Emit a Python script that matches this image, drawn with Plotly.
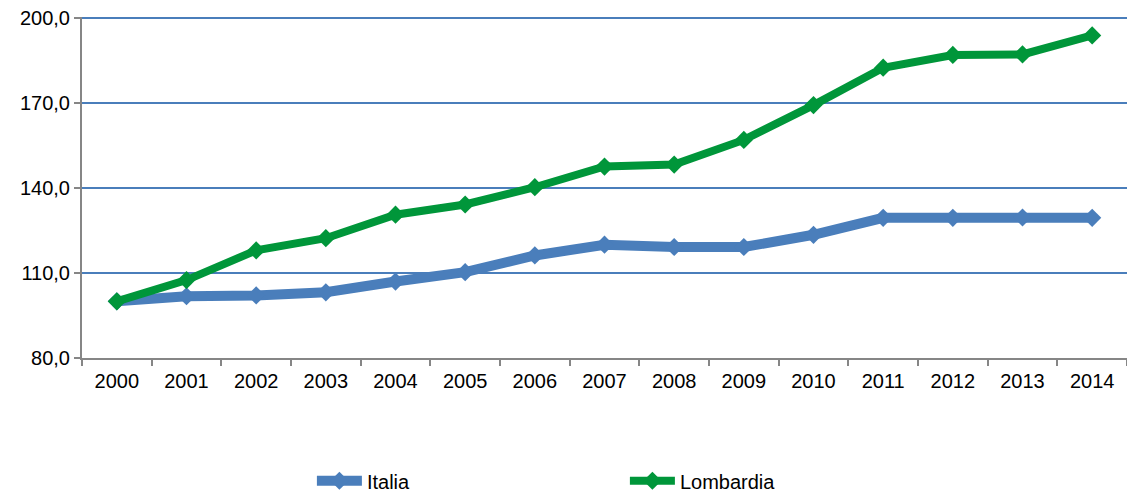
import plotly.graph_objects as go

years = [str(y) for y in range(2000, 2015)]
italia = [100.0, 101.8, 102.1, 103.2, 107.0, 110.3, 116.2, 120.0, 119.2, 119.2, 123.5, 129.5, 129.5, 129.6, 129.5]
lombardia = [100.0, 107.5, 118.0, 122.3, 130.6, 134.2, 140.3, 147.6, 148.3, 157.0, 169.3, 182.5, 187.0, 187.2, 193.9]
y_ticks = [80, 110, 140, 170, 200]

blue = "#4a7ebb"
green = "#00963a"

fig = go.Figure()
fig.add_trace(go.Scatter(x=years, y=italia, name="Italia", mode="lines+markers",
                         line=dict(color=blue, width=10),
                         marker=dict(symbol="diamond", size=14, color=blue)))
fig.add_trace(go.Scatter(x=years, y=lombardia, name="Lombardia", mode="lines+markers",
                         line=dict(color=green, width=8),
                         marker=dict(symbol="diamond", size=14, color=green)))

fig.update_layout(
    width=1127, height=495,
    margin=dict(l=82, r=0, t=17, b=137, autoexpand=False),
    paper_bgcolor="white", plot_bgcolor="white",
    separators=",.",
    font=dict(family="Liberation Sans, Arial, sans-serif", size=20, color="#000000"),
    showlegend=True,
    legend=dict(orientation="h", x=0.22, y=-0.36, xanchor="left", yanchor="middle",
                entrywidth=253, entrywidthmode="pixels", itemwidth=45,
                font=dict(size=20), bgcolor="rgba(0,0,0,0)"),
)
fig.update_xaxes(type="category", range=[-0.5, 14.5], showline=True, linecolor="#868686", linewidth=2,
                 ticks="outside", ticklen=6, tickcolor="#868686", tickwidth=2, ticklabelstandoff=4,
                 tickson="boundaries", showgrid=False, zeroline=False, fixedrange=True)
fig.update_yaxes(range=[80, 200.4], tickvals=y_ticks, tickformat=".1f", showline=True,
                 linecolor="#868686", linewidth=2, ticks="outside", ticklen=6,
                 tickcolor="#868686", tickwidth=2, showgrid=True, gridcolor=blue,
                 gridwidth=1.5, zeroline=False, fixedrange=True)

fig.write_html("out.html")
